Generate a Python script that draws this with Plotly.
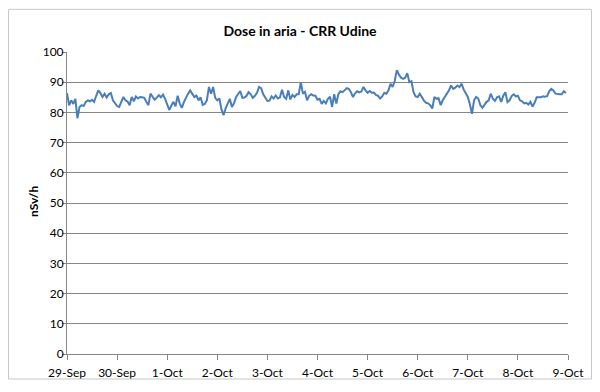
import plotly.graph_objects as go
import pandas as pd

# Hourly dose readings (nSv/h), one list per day
day_29_sep = [86.4, 82.3, 84.0, 82.8, 84.5, 78.0, 81.8, 82.4, 82.1, 83.5, 84.0, 83.7,
              84.2, 83.5, 85.5, 87.3, 86.4, 85.1, 86.2, 84.9, 86.0, 86.4, 84.0, 83.2]
day_30_sep = [82.1, 81.8, 83.5, 85.1, 84.0, 83.6, 82.4, 85.1, 83.7, 85.3, 84.6, 85.1,
              85.0, 84.8, 83.5, 82.4, 86.2, 85.0, 84.2, 84.9, 85.7, 85.0, 85.9, 84.5]
day_01_oct = [82.5, 80.8, 82.3, 83.5, 82.0, 85.5, 83.0, 81.5, 83.4, 85.1, 86.2, 87.3,
              86.3, 85.1, 85.6, 84.0, 85.0, 82.5, 82.8, 84.0, 88.4, 86.2, 88.4, 84.8]
day_02_oct = [84.0, 84.6, 81.0, 79.1, 81.3, 83.0, 84.5, 81.8, 83.0, 85.1, 86.0, 87.1,
              84.8, 84.9, 85.5, 86.7, 86.0, 84.8, 85.5, 86.5, 88.4, 88.0, 86.0, 84.7]
day_03_oct = [83.8, 83.9, 85.3, 84.6, 85.6, 84.6, 85.0, 87.5, 85.1, 84.5, 87.3, 84.3,
              85.8, 85.1, 86.0, 86.0, 90.0, 86.2, 86.8, 84.0, 85.5, 86.0, 85.6, 85.5]
day_04_oct = [84.2, 84.5, 82.8, 83.8, 83.0, 84.5, 85.2, 81.8, 86.0, 82.9, 86.0, 87.0,
              86.7, 87.3, 88.0, 87.8, 86.7, 85.1, 86.3, 87.0, 86.6, 86.9, 88.4, 87.3]
day_05_oct = [86.5, 87.1, 86.5, 86.6, 85.8, 85.5, 84.6, 85.3, 86.5, 86.2, 87.3, 89.5,
              88.4, 90.5, 94.0, 92.5, 91.5, 91.1, 91.5, 93.0, 90.0, 90.3, 86.7, 85.3]
day_06_oct = [85.1, 86.2, 84.8, 83.9, 83.2, 83.0, 82.4, 81.3, 85.1, 84.5, 84.7, 82.4,
              84.0, 85.0, 86.2, 87.3, 88.9, 87.8, 88.2, 88.9, 88.4, 89.5, 87.6, 86.5]
day_07_oct = [85.1, 82.7, 79.5, 84.0, 85.1, 84.6, 82.4, 81.5, 82.5, 83.5, 84.0, 86.2,
              84.5, 83.8, 85.0, 85.3, 83.5, 85.5, 86.7, 83.4, 84.0, 85.4, 86.0, 85.3]
day_08_oct = [85.5, 84.0, 83.7, 83.0, 83.2, 82.6, 83.5, 81.9, 83.2, 85.0, 85.0, 85.0,
              85.3, 85.2, 85.4, 87.0, 87.8, 87.3, 86.2, 86.0, 86.0, 86.0, 87.0, 86.4]

start_date = "2016-09-29"
end_date = "2016-10-09"
title_text = "Dose in aria - CRR Udine"
y_title = "nSv/h"

values = (day_29_sep + day_30_sep + day_01_oct + day_02_oct + day_03_oct +
          day_04_oct + day_05_oct + day_06_oct + day_07_oct + day_08_oct)
times = pd.date_range(start_date, periods=len(values), freq="h")

font_family = "Lato, 'Open Sans', sans-serif"
axis_gray = "#868686"

# figure is placed 8px in from the page corner by the browser's body margin
W, H = 592, 384
L, R, T, B = 59, 32, 44, 32
pw, ph = W - L - R, H - T - B

fig = go.Figure()
fig.add_trace(go.Scatter(
    x=times, y=values, mode="lines",
    line=dict(color="#4a7ebb", width=2),
    hoverinfo="x+y", showlegend=False,
))

fig.update_layout(
    width=W, height=H,
    margin=dict(l=L, r=R, t=T, b=B),
    paper_bgcolor="white", plot_bgcolor="white",
    font=dict(family=font_family, size=12, color="#000000"),
    title=dict(text="<b>" + title_text + "</b>", x=292 / W, xanchor="center",
               y=1 - 23 / H, yanchor="middle",
               font=dict(size=14, family=font_family, color="#000000")),
    xaxis=dict(
        type="date",
        range=[start_date, end_date],
        dtick=86400000, tick0=start_date,
        tickformat="%-d-%b",
        ticks="outside", ticklen=5, tickcolor=axis_gray, tickwidth=1,
        ticklabelstandoff=3,
        showline=True, linecolor=axis_gray, linewidth=1,
        showgrid=False, zeroline=False,
        tickfont=dict(size=12),
    ),
    yaxis=dict(
        range=[0, 100], dtick=10,
        ticks="outside", ticklen=4, tickcolor=axis_gray, tickwidth=1,
        ticklabelstandoff=-4,
        showline=True, linecolor=axis_gray, linewidth=1,
        showgrid=True, gridcolor=axis_gray, gridwidth=1,
        zeroline=False,
        tickfont=dict(size=12),
    ),
)

fig.add_annotation(
    text="<b>" + y_title + "</b>", textangle=-90,
    xref="paper", yref="paper",
    x=(25 - L) / pw, y=(H - B - 197) / ph,
    xanchor="center", yanchor="middle", showarrow=False,
    font=dict(size=12),
)

# Chart-area border like the spreadsheet chart frame
fig.add_shape(type="rect", xref="paper", yref="paper",
              x0=(0.5 - L) / pw, x1=(583.5 - L) / pw,
              y0=(H - B - 377.5) / ph, y1=(H - B - 0.5) / ph,
              line=dict(color="#c8c8c8", width=1), layer="above")

fig.write_html("out.html")
